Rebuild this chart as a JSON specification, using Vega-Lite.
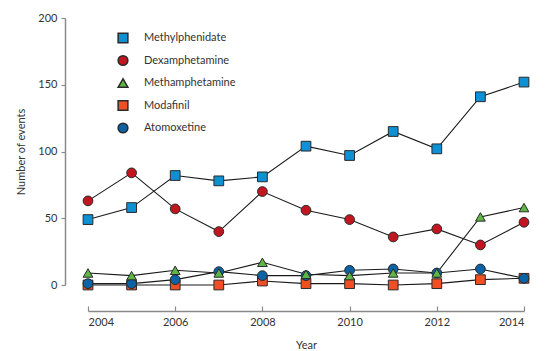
{
  "$schema": "https://vega.github.io/schema/vega-lite/v6.json",
  "width": 436,
  "height": 267,
  "autosize": {"type": "none"},
  "padding": {"left": 88, "top": 18, "right": 31, "bottom": 66},
  "background": "white",
  "config": {
    "view": {"stroke": null},
    "font": "Lato",
    "axis": {
      "grid": false,
      "domainColor": "#8a8a8a",
      "domainWidth": 1.5,
      "tickColor": "#8a8a8a",
      "tickWidth": 1.2,
      "labelColor": "#333333",
      "labelFontSize": 11,
      "labelFont": "Lato",
      "titleColor": "#333333",
      "titleFontSize": 11,
      "titleFont": "Lato",
      "titleFontWeight": "normal"
    }
  },
  "data": {
    "values": [
      {"drug": "Modafinil", "year": 2004, "n": 0},
      {"drug": "Modafinil", "year": 2005, "n": 0},
      {"drug": "Modafinil", "year": 2006, "n": 0},
      {"drug": "Modafinil", "year": 2007, "n": 0},
      {"drug": "Modafinil", "year": 2008, "n": 3},
      {"drug": "Modafinil", "year": 2009, "n": 1},
      {"drug": "Modafinil", "year": 2010, "n": 1},
      {"drug": "Modafinil", "year": 2011, "n": 0},
      {"drug": "Modafinil", "year": 2012, "n": 1},
      {"drug": "Modafinil", "year": 2013, "n": 4},
      {"drug": "Modafinil", "year": 2014, "n": 5},
      {"drug": "Atomoxetine", "year": 2004, "n": 1},
      {"drug": "Atomoxetine", "year": 2005, "n": 1},
      {"drug": "Atomoxetine", "year": 2006, "n": 4},
      {"drug": "Atomoxetine", "year": 2007, "n": 10},
      {"drug": "Atomoxetine", "year": 2008, "n": 7},
      {"drug": "Atomoxetine", "year": 2009, "n": 7},
      {"drug": "Atomoxetine", "year": 2010, "n": 11},
      {"drug": "Atomoxetine", "year": 2011, "n": 12},
      {"drug": "Atomoxetine", "year": 2012, "n": 9},
      {"drug": "Atomoxetine", "year": 2013, "n": 12},
      {"drug": "Atomoxetine", "year": 2014, "n": 5},
      {"drug": "Methamphetamine", "year": 2004, "n": 9},
      {"drug": "Methamphetamine", "year": 2005, "n": 7},
      {"drug": "Methamphetamine", "year": 2006, "n": 11},
      {"drug": "Methamphetamine", "year": 2007, "n": 9},
      {"drug": "Methamphetamine", "year": 2008, "n": 17},
      {"drug": "Methamphetamine", "year": 2009, "n": 8},
      {"drug": "Methamphetamine", "year": 2010, "n": 7},
      {"drug": "Methamphetamine", "year": 2011, "n": 9},
      {"drug": "Methamphetamine", "year": 2012, "n": 9},
      {"drug": "Methamphetamine", "year": 2013, "n": 51},
      {"drug": "Methamphetamine", "year": 2014, "n": 58},
      {"drug": "Dexamphetamine", "year": 2004, "n": 63},
      {"drug": "Dexamphetamine", "year": 2005, "n": 84},
      {"drug": "Dexamphetamine", "year": 2006, "n": 57},
      {"drug": "Dexamphetamine", "year": 2007, "n": 40},
      {"drug": "Dexamphetamine", "year": 2008, "n": 70},
      {"drug": "Dexamphetamine", "year": 2009, "n": 56},
      {"drug": "Dexamphetamine", "year": 2010, "n": 49},
      {"drug": "Dexamphetamine", "year": 2011, "n": 36},
      {"drug": "Dexamphetamine", "year": 2012, "n": 42},
      {"drug": "Dexamphetamine", "year": 2013, "n": 30},
      {"drug": "Dexamphetamine", "year": 2014, "n": 47},
      {"drug": "Methylphenidate", "year": 2004, "n": 49},
      {"drug": "Methylphenidate", "year": 2005, "n": 58},
      {"drug": "Methylphenidate", "year": 2006, "n": 82},
      {"drug": "Methylphenidate", "year": 2007, "n": 78},
      {"drug": "Methylphenidate", "year": 2008, "n": 81},
      {"drug": "Methylphenidate", "year": 2009, "n": 104},
      {"drug": "Methylphenidate", "year": 2010, "n": 97},
      {"drug": "Methylphenidate", "year": 2011, "n": 115},
      {"drug": "Methylphenidate", "year": 2012, "n": 102},
      {"drug": "Methylphenidate", "year": 2013, "n": 141},
      {"drug": "Methylphenidate", "year": 2014, "n": 152}
    ]
  },
  "encoding": {
    "x": {
      "field": "year",
      "type": "quantitative",
      "title": "Year",
      "scale": {"domain": [2004, 2014], "nice": false, "zero": false},
      "axis": {
        "values": [2004, 2006, 2008, 2010, 2012, 2014],
        "format": "d",
        "offset": 26,
        "tickSize": -5,
        "labelPadding": 10,
        "titlePadding": 12
      }
    },
    "y": {
      "field": "n",
      "type": "quantitative",
      "title": "Number of events",
      "scale": {"domain": [0, 200], "nice": false},
      "axis": {
        "values": [0, 50, 100, 150, 200],
        "offset": 23,
        "tickSize": 4,
        "labelPadding": 4,
        "titlePadding": 11
      }
    }
  },
  "layer": [
    {
      "mark": {"type": "line", "color": "#1a1a1a", "strokeWidth": 1.1},
      "encoding": {
        "detail": {"field": "drug", "type": "nominal"}
      }
    },
    {
      "mark": {"type": "point", "filled": true, "opacity": 1, "size": 95, "stroke": "#2a2a2a", "strokeWidth": 1},
      "encoding": {
        "fill": {
          "field": "drug",
          "type": "nominal",
          "scale": {
            "domain": ["Methylphenidate", "Dexamphetamine", "Methamphetamine", "Modafinil", "Atomoxetine"],
            "range": ["#0e90d5", "#c1161f", "#5db645", "#f04f24", "#0b62a5"]
          },
          "legend": {
            "title": null,
            "orient": "none",
            "legendX": 29,
            "legendY": 14,
            "padding": 0,
            "symbolSize": 95,
            "labelOffset": 15,
            "labelFontSize": 11,
            "labelColor": "#333333",
            "labelFont": "Lato",
            "rowPadding": 6.5
          }
        },
        "shape": {
          "field": "drug",
          "type": "nominal",
          "scale": {
            "domain": ["Methylphenidate", "Dexamphetamine", "Methamphetamine", "Modafinil", "Atomoxetine"],
            "range": ["square", "circle", "triangle-up", "square", "circle"]
          },
          "legend": {
            "title": null,
            "orient": "none",
            "legendX": 29,
            "legendY": 14,
            "padding": 0,
            "symbolSize": 95,
            "labelOffset": 15,
            "labelFontSize": 11,
            "labelColor": "#333333",
            "labelFont": "Lato",
            "rowPadding": 6.5
          }
        }
      }
    }
  ]
}
